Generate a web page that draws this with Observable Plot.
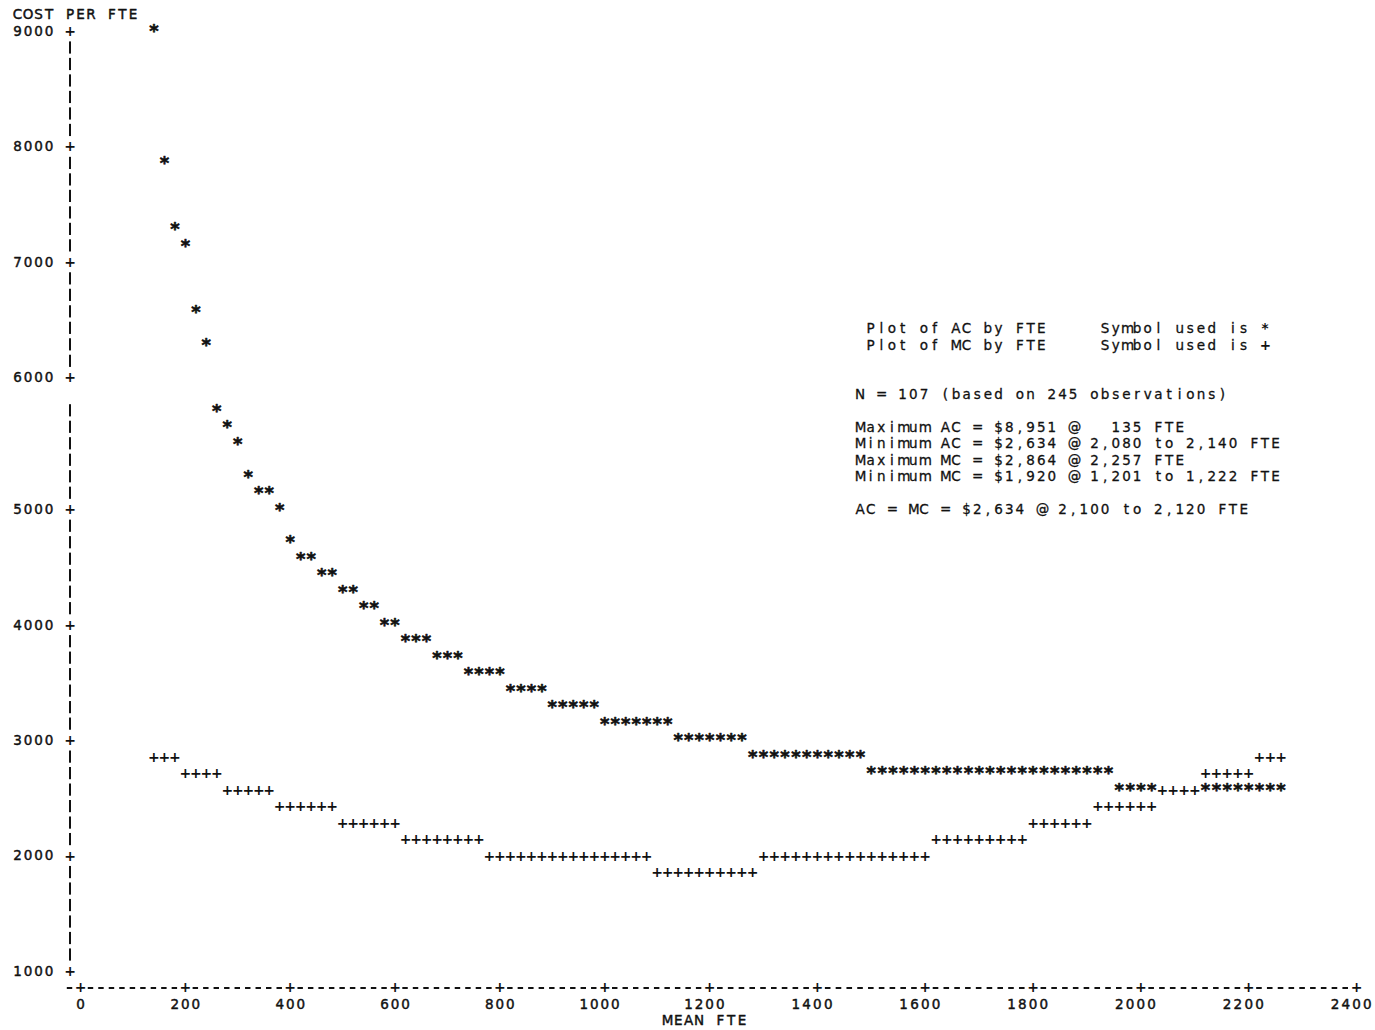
<!DOCTYPE html>
<html>
<head>
<meta charset="utf-8">
<script src="https://cdn.jsdelivr.net/npm/d3@7"></script>
<script src="https://cdn.jsdelivr.net/npm/@observablehq/plot@0.6"></script>
<style>
  html, body { margin: 0; padding: 0; background: #fff; }
  #chart { position: relative; width: 1375px; height: 1030px; }
  #chart svg { display: block; }
  .note { position: absolute; left: 0; top: 0; font-family: "DejaVu Sans", sans-serif; font-size: 13.5px; color: #111; -webkit-text-stroke: 0.3px #111; }
  .note .line { position: absolute; height: 16px; line-height: 16px; white-space: pre; }
  .note .c { display: inline-block; width: 10.66px; text-align: center; }
  .note .sym { font-weight: bold; -webkit-text-stroke: 0; }
</style>
</head>
<body>
<div id="chart"></div>
<script>
// Mean FTE of each of the 107 groups
const fte = [
  135, 160, 180, 200, 220, 240, 260, 280, 300, 320,
  340, 360, 380, 400, 420, 440, 460, 480, 500, 520,
  540, 560, 580, 600, 620, 640, 660, 680, 700, 720,
  740, 760, 780, 800, 820, 840, 860, 880, 900, 920,
  940, 960, 980, 1000, 1020, 1040, 1060, 1080, 1100, 1120,
  1140, 1160, 1180, 1201, 1222, 1240, 1260, 1280, 1300, 1320,
  1340, 1360, 1380, 1400, 1420, 1440, 1460, 1480, 1500, 1520,
  1540, 1560, 1580, 1600, 1620, 1640, 1660, 1680, 1700, 1720,
  1740, 1760, 1780, 1800, 1820, 1840, 1860, 1880, 1900, 1920,
  1940, 1960, 1980, 2000, 2020, 2040, 2060, 2080, 2100, 2120,
  2140, 2160, 2180, 2200, 2220, 2240, 2257
];

// Average cost per FTE (AC)
const ac = [
  8951, 7880, 7310, 7170, 6600, 6310, 5850, 5700, 5560, 5290,
  5170, 5100, 4990, 4720, 4600, 4530, 4450, 4380, 4300, 4240,
  4160, 4100, 4020, 3950, 3900, 3850, 3800, 3760, 3720, 3660,
  3630, 3590, 3550, 3510, 3480, 3440, 3400, 3370, 3340, 3310,
  3280, 3250, 3220, 3200, 3180, 3150, 3130, 3110, 3090, 3075,
  3060, 3040, 3020, 3000, 2985, 2960, 2935, 2920, 2905, 2890,
  2880, 2865, 2855, 2845, 2830, 2815, 2800, 2790, 2780, 2770,
  2762, 2754, 2746, 2738, 2731, 2724, 2717, 2711, 2705, 2700,
  2694, 2689, 2684, 2679, 2675, 2671, 2667, 2663, 2659, 2655,
  2650, 2641, 2640, 2638, 2637, 2636, 2635, 2634, 2634, 2634,
  2634, 2635, 2636, 2638, 2640, 2641, 2642
];

// Marginal cost per FTE (MC)
const mc = [
  2860, 2840, 2815, 2770, 2740, 2710, 2680, 2630, 2600, 2570,
  2545, 2520, 2490, 2465, 2440, 2420, 2400, 2380, 2350, 2330,
  2310, 2290, 2270, 2250, 2210, 2195, 2180, 2165, 2150, 2130,
  2110, 2090, 2065, 2055, 2045, 2035, 2025, 2015, 2005, 1995,
  1988, 1980, 1973, 1966, 1960, 1953, 1947, 1940, 1928, 1926,
  1924, 1923, 1922, 1920, 1920, 1921, 1923, 1926, 1932, 1938,
  1945, 1952, 1960, 1968, 1976, 1985, 1994, 2003, 2012, 2022,
  2032, 2042, 2053, 2064, 2076, 2088, 2101, 2115, 2130, 2145,
  2160, 2178, 2196, 2218, 2240, 2262, 2285, 2308, 2332, 2362,
  2390, 2418, 2446, 2470, 2492, 2520, 2560, 2600, 2630, 2660,
  2690, 2720, 2745, 2770, 2800, 2830, 2864
];

const yTicks = [1000, 2000, 3000, 4000, 5000, 6000, 7000, 8000, 9000];
const xTicks = [0, 200, 400, 600, 800, 1000, 1200, 1400, 1600, 1800, 2000, 2200, 2400];
const yTitle = "COST PER FTE";
const xTitle = "MEAN FTE";

const notes = [
  " Plot of AC by FTE     Symbol used is *",
  " Plot of MC by FTE     Symbol used is +",
  "N = 107 (based on 245 observations)",
  "Maximum AC = $8,951 @   135 FTE",
  "Minimum AC = $2,634 @ 2,080 to 2,140 FTE",
  "Maximum MC = $2,864 @ 2,257 FTE",
  "Minimum MC = $1,920 @ 1,201 to 1,222 FTE",
  "AC = MC = $2,634 @ 2,100 to 2,120 FTE"
];
// print line on which each note line sits
const noteLines = [0, 1, 4, 6, 7, 8, 9, 11];

// ---- line-printer grid: one print column per 20 FTE, seven print lines per $1,000
const COL = 20;
const ROW = 1000 / 7;
const colOf = v => Math.round(v / COL);
const rowOf = v => Math.round((v - 1000) / ROW);
const cx = c => c * COL;
const ry = r => 1000 + r * ROW;

// The printout was pasted together from two sheets, leaving one extra blank
// line between the 5857 and 6000 print lines.
const SPLICE = ry(34.5);
const spliced = v => (v > SPLICE ? v + ROW : v);
// print columns come out slightly wider on the right half of the sheet
const stretched = f => (f <= 1200 ? f : 1200 + (f - 1200) * 1.0283);

// Each observation occupies one character cell; where both series land in the
// same cell only one symbol can be printed, and the MC "+" is printed there.
const acCells = fte.map((f, i) => ({c: colOf(f), r: rowOf(ac[i])}));
const mcCells = fte.map((f, i) => ({c: colOf(f), r: rowOf(mc[i])}));
const taken = new Set(mcCells.map(d => d.c + ":" + d.r));
const acShown = acCells.filter(d => !taken.has(d.c + ":" + d.r));

// Strings laid out one character per cell
const chars = (s, c0, r) =>
  Array.from(s, (ch, i) => ({c: c0 + i, r, ch})).filter(d => d.ch !== " ");

const topRow = rowOf(yTicks[yTicks.length - 1]);
const labelCells = [
  ...chars(yTitle, -6, topRow + 1),
  ...yTicks.flatMap(v => chars(String(v), -2 - String(v).length, rowOf(v))),
  ...xTicks.flatMap(v => {
    const s = String(v);
    return chars(s, colOf(v) - Math.floor(s.length / 2), -2);
  }),
  ...chars(xTitle, colOf(1200) - Math.floor(xTitle.length / 2), -3)
];

const tickCells = [
  ...yTicks.map(v => ({c: -1, r: rowOf(v)})),
  ...xTicks.map(v => ({c: colOf(v), r: -1}))
];
const tickRows = new Set(yTicks.map(rowOf));
const tickCols = new Set(xTicks.map(colOf));
const vBars = d3.range(0, topRow).filter(r => !tickRows.has(r));
const hDashes = d3.range(-1, colOf(xTicks[xTicks.length - 1])).filter(c => !tickCols.has(c));

const ink = "#111";
const symbolFont = {fontFamily: "DejaVu Sans", fontWeight: "bold", fill: ink, textAnchor: "middle", lineAnchor: "middle"};

const chart = Plot.plot({
  width: 1375,
  height: 1030,
  marginTop: 0, marginRight: 0, marginBottom: 0, marginLeft: 0,
  style: {background: "#fff", overflow: "visible"},
  x: {axis: null, type: "linear", transform: stretched, domain: [0, stretched(2400)], range: [80, 1356]},
  y: {axis: null, type: "linear", transform: spliced, domain: [1000, spliced(9000)], range: [971, 31]},
  marks: [
    // vertical axis drawn as "|" characters
    Plot.ruleX(vBars, {x: () => cx(-1), y1: r => ry(r - 0.37), y2: r => ry(r + 0.37), stroke: ink, strokeWidth: 2}),
    // horizontal axis drawn as "-" characters
    Plot.ruleY(hDashes, {y: () => ry(-1), x1: c => cx(c - 0.26), x2: c => cx(c + 0.26), stroke: ink, strokeWidth: 2}),
    // tick "+" marks on both axes
    Plot.text(tickCells, {x: d => cx(d.c), y: d => ry(d.r), text: () => "+", fontSize: 14, ...symbolFont}),
    // tick labels and axis titles
    Plot.text(labelCells, {
      x: d => cx(d.c), y: d => ry(d.r), text: "ch",
      fontFamily: "DejaVu Sans", fontSize: 13.5, fill: ink, stroke: ink, strokeWidth: 0.45,
      textAnchor: "middle", lineAnchor: "middle"
    }),
    // AC plotted with "*"
    Plot.text(acShown, {
      x: d => cx(d.c), y: d => ry(d.r), text: () => "*", fontSize: 18,
      stroke: ink, strokeWidth: 0.6, ...symbolFont
    }),
    // MC plotted with "+"
    Plot.text(mcCells, {x: d => cx(d.c), y: d => ry(d.r), text: () => "+", fontSize: 14, ...symbolFont})
  ]
});

const host = document.getElementById("chart");
host.appendChild(chart);

// Summary statistics block set on the right of the plot
const noteLeft = 854.7, noteTop = 328.3, notePitch = 16.4;
const note = document.createElement("div");
note.className = "note";
notes.forEach((t, i) => {
  const line = document.createElement("div");
  line.className = "line";
  line.style.left = noteLeft + "px";
  line.style.top = (noteTop + noteLines[i] * notePitch - 8) + "px";
  Array.from(t).forEach((ch, j) => {
    const s = document.createElement("span");
    s.className = "c";
    if (i < 2 && j === t.length - 1) s.classList.add("sym");
    s.textContent = ch === " " ? "\u00a0" : ch;
    line.appendChild(s);
  });
  note.appendChild(line);
});
host.appendChild(note);
</script>
</body>
</html>
